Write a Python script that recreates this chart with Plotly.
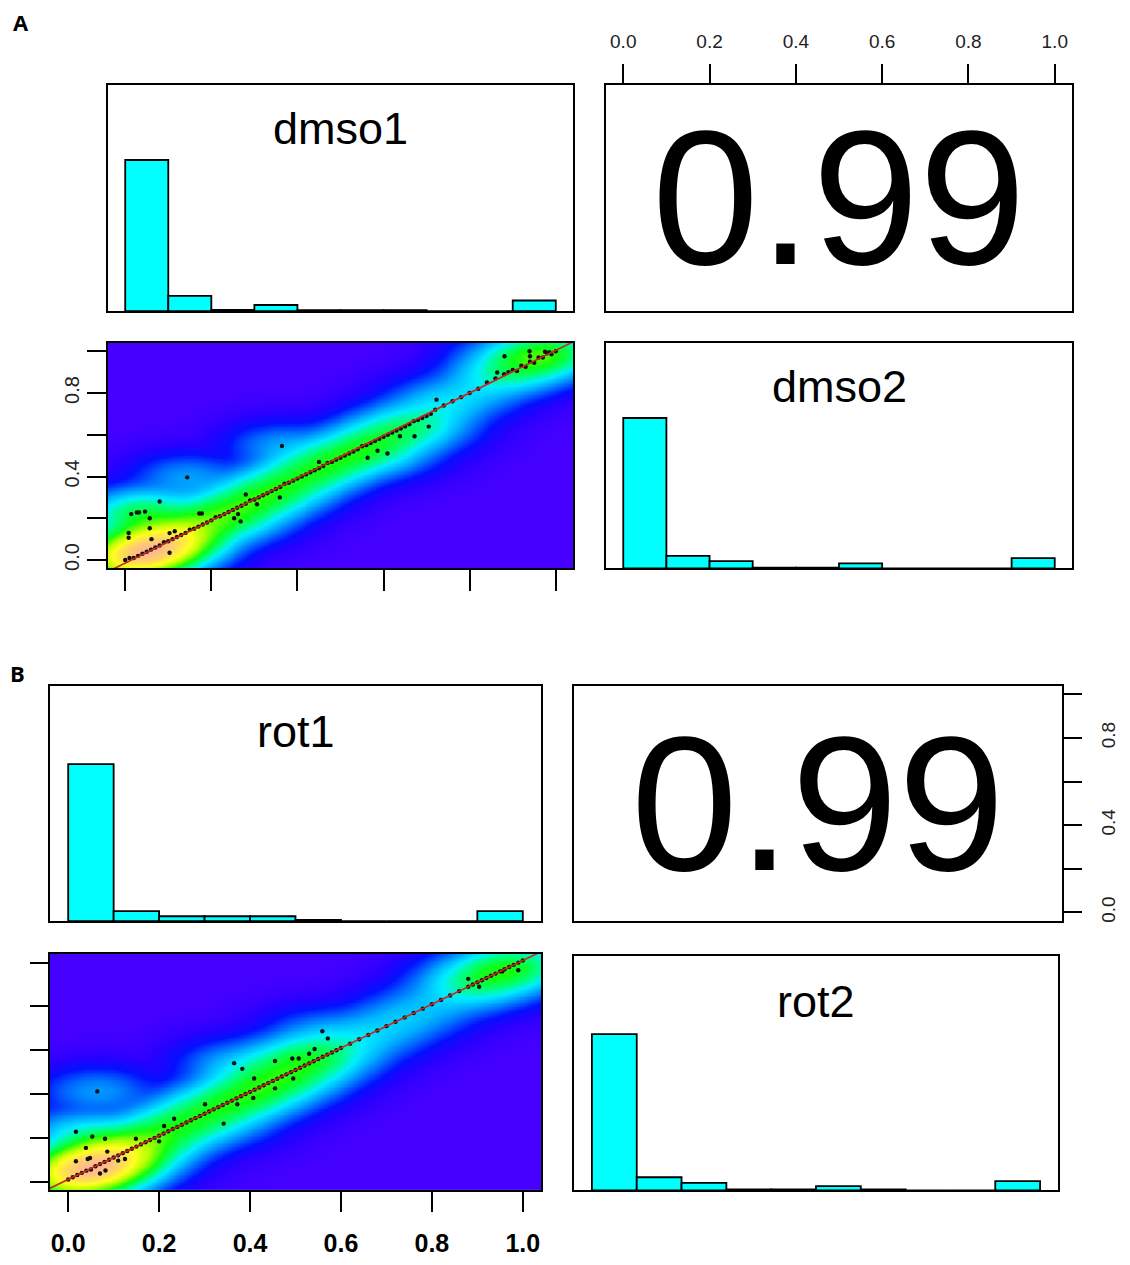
import numpy as np
import plotly.graph_objects as go

# the page adds an 8px body margin; the figure is sized/positioned to compensate
PAGE_W, PAGE_H, OFF = 1130, 1265, 8
W, H = PAGE_W - 2 * OFF, PAGE_H - 2 * OFF

# ---------------- data ----------------
bin_edges = [0.0, 0.1, 0.2, 0.3, 0.4, 0.5, 0.6, 0.7, 0.8, 0.9, 1.0]
dmso1_h = [1.0, 0.10, 0.008, 0.04, 0.006, 0.006, 0.006, 0, 0, 0.07]
dmso2_h = [1.0, 0.083, 0.048, 0.005, 0.005, 0.033, 0, 0, 0, 0.068]
rot1_h = [1.0, 0.063, 0.031, 0.031, 0.031, 0.008, 0, 0, 0, 0.063]
rot2_h = [1.0, 0.084, 0.048, 0.006, 0.006, 0.027, 0.006, 0, 0, 0.059]

corr_a = "0.99"
corr_b = "0.99"
tick_vals = [0.0, 0.2, 0.4, 0.6, 0.8, 1.0]
tick_text = ["0.0", "0.2", "0.4", "0.6", "0.8", "1.0"]
tick_text_sparse = ["0.0", "", "0.4", "", "0.8", ""]

# panel A: dmso1 (x) vs dmso2 (y)
a_diag_x = [0.00, 0.02, 0.04, 0.06, 0.08, 0.10, 0.12, 0.14, 0.16, 0.18, 0.20, 0.22, 0.24, 0.26,
            0.28, 0.30, 0.32, 0.34, 0.36, 0.38, 0.40, 0.42, 0.44, 0.46, 0.48, 0.50, 0.52, 0.54,
            0.56, 0.58, 0.60, 0.62, 0.64, 0.66, 0.68, 0.70, 0.72, 0.74, 0.76, 0.78, 0.80, 0.82,
            0.84, 0.86, 0.88, 0.90, 0.92, 0.94, 0.96, 0.98, 1.00]
a_diag_y = [0.00, 0.01, 0.03, 0.05, 0.07, 0.09, 0.11, 0.13, 0.15, 0.17, 0.19, 0.21, 0.23, 0.25,
            0.27, 0.29, 0.31, 0.33, 0.35, 0.37, 0.39, 0.41, 0.43, 0.45, 0.47, 0.49, 0.51, 0.53,
            0.55, 0.57, 0.59, 0.61, 0.63, 0.65, 0.67, 0.69, 0.72, 0.74, 0.76, 0.78, 0.80, 0.82,
            0.85, 0.87, 0.89, 0.91, 0.93, 0.95, 0.97, 0.99, 1.00]
a_diag_n = [60, 100, 100, 95, 85, 65, 45, 30, 20, 15, 13, 13, 13, 13,
            13, 13, 13, 13, 13, 13, 13, 13, 13, 13, 13, 13, 12, 12,
            12, 11, 10, 9, 9, 8, 6, 5, 3, 2.5, 2.5, 2.5, 2.5, 2.5,
            3, 4, 6, 10, 12, 14, 16, 16, 10]
a_extra_x = [0.01, 0.03, 0.05, 0.07, 0.09, 0.11, 0.13, 0.15, 0.17, 0.19, 0.21, 0.23, 0.25, 0.27,
             0.29, 0.31, 0.33, 0.35, 0.37, 0.39, 0.41, 0.43, 0.45, 0.47, 0.49, 0.51, 0.53, 0.55,
             0.57, 0.59, 0.61, 0.63, 0.65, 0.67, 0.69, 0.71, 0.89, 0.91, 0.93, 0.95, 0.97, 0.99]
a_extra_y = [0.01, 0.02, 0.04, 0.06, 0.085, 0.10, 0.12, 0.145, 0.16, 0.18, 0.205, 0.22, 0.24, 0.26,
             0.285, 0.30, 0.32, 0.34, 0.365, 0.38, 0.40, 0.42, 0.44, 0.465, 0.48, 0.50, 0.52, 0.545,
             0.56, 0.58, 0.60, 0.62, 0.64, 0.665, 0.68, 0.70, 0.90, 0.905, 0.925, 0.945, 0.97, 0.985]
a_out_x = [0.008, 0.008, 0.014, 0.027, 0.032, 0.046, 0.057, 0.057, 0.080, 0.061, 0.103, 0.115,
           0.103, 0.144, 0.172, 0.178, 0.253, 0.262, 0.268, 0.280, 0.306, 0.359, 0.364, 0.450,
           0.563, 0.586, 0.609, 0.638, 0.672, 0.705, 0.723, 0.864, 0.881, 0.939, 0.940, 0.975, 0.985]
a_out_y = [0.130, 0.107, 0.220, 0.228, 0.228, 0.232, 0.200, 0.152, 0.280, 0.100, 0.129, 0.138,
           0.035, 0.396, 0.223, 0.223, 0.200, 0.220, 0.185, 0.314, 0.267, 0.300, 0.546, 0.470,
           0.490, 0.523, 0.510, 0.593, 0.593, 0.639, 0.768, 0.898, 0.976, 1.000, 0.976, 0.997, 0.995]
a_out_n = [8, 8, 9, 9, 9, 9, 9, 8, 4, 8, 6, 6,
           8, 5, 5, 5, 4, 4, 4, 4, 4, 4, 5, 4,
           4, 4, 4, 3, 3, 3, 3, 3, 4, 5, 5, 8, 8]

# panel B: rot1 (x) vs rot2 (y)
b_diag_x = list(a_diag_x)
b_diag_y = [0.01, 0.03, 0.05, 0.07, 0.09, 0.11, 0.13, 0.15, 0.17, 0.19, 0.21, 0.23, 0.25, 0.27,
            0.29, 0.31, 0.33, 0.35, 0.37, 0.39, 0.41, 0.43, 0.45, 0.47, 0.49, 0.51, 0.53, 0.55,
            0.57, 0.59, 0.61, 0.63, 0.65, 0.67, 0.69, 0.71, 0.73, 0.75, 0.77, 0.79, 0.81, 0.83,
            0.85, 0.87, 0.89, 0.91, 0.93, 0.95, 0.97, 0.99, 1.01]
b_diag_n = [60, 100, 100, 95, 85, 60, 40, 26, 18, 14, 12, 12, 12, 12,
            12, 12, 12, 12, 13, 13, 13, 13, 13, 13, 12, 12, 11, 10,
            8, 5, 3.5, 3, 3, 2.5, 2.5, 2.5, 2.5, 2.5, 2, 2, 2, 2,
            2, 2.5, 5, 9, 12, 14, 16, 16, 10]
b_extra_x = [0.01, 0.03, 0.05, 0.07, 0.09, 0.11, 0.13, 0.15, 0.17, 0.19, 0.21, 0.23, 0.25, 0.27,
             0.29, 0.31, 0.33, 0.35, 0.37, 0.39, 0.41, 0.43, 0.45, 0.47, 0.49, 0.51, 0.53, 0.55,
             0.57, 0.59, 0.89, 0.91, 0.93, 0.95, 0.97, 0.99]
b_extra_y = [0.02, 0.04, 0.055, 0.08, 0.10, 0.12, 0.14, 0.16, 0.18, 0.20, 0.22, 0.24, 0.26, 0.28,
             0.30, 0.32, 0.34, 0.36, 0.38, 0.40, 0.42, 0.44, 0.46, 0.48, 0.50, 0.52, 0.54, 0.56,
             0.58, 0.60, 0.90, 0.92, 0.94, 0.96, 0.98, 1.00]
b_out_x = [0.017, 0.039, 0.053, 0.064, 0.081, 0.017, 0.043, 0.048, 0.070, 0.082, 0.086, 0.110,
           0.125, 0.149, 0.200, 0.211, 0.233, 0.301, 0.342, 0.365, 0.383, 0.372, 0.409, 0.407,
           0.455, 0.455, 0.493, 0.507, 0.495, 0.530, 0.542, 0.559, 0.571, 0.880, 0.904, 0.955, 0.990]
b_out_y = [0.228, 0.154, 0.206, 0.412, 0.196, 0.093, 0.103, 0.108, 0.037, 0.051, 0.137, 0.096,
           0.103, 0.196, 0.184, 0.254, 0.287, 0.353, 0.265, 0.541, 0.515, 0.353, 0.471, 0.382,
           0.551, 0.426, 0.562, 0.562, 0.471, 0.584, 0.606, 0.687, 0.654, 0.926, 0.890, 0.960, 0.965]
b_out_n = [8, 8, 8, 5, 8, 8, 10, 10, 8, 8, 7, 6,
           6, 5, 4, 4, 4, 4, 3, 4, 4, 4, 5, 5,
           6, 5, 6, 6, 5, 6, 5, 3, 3, 4, 4, 6, 6]

# ---------------- helpers ----------------
RNG = [-0.04, 1.04]
FONT = "Liberation Sans"


def dom_x(a, b):
    return [(a - OFF) / W, (b - OFF) / W]


def dom_y(top, bottom):
    return [1 - (bottom - OFF) / H, 1 - (top - OFF) / H]


def box_axis(domain, rng, **kw):
    d = dict(domain=domain, range=rng, showline=True, linecolor="black", linewidth=1.6,
             mirror=True, showgrid=False, zeroline=False, ticks="", showticklabels=False,
             fixedrange=True)
    d.update(kw)
    return d


def tick_axis(domain, rng, text, **kw):
    d = box_axis(domain, rng, ticks="outside", ticklen=19, tickwidth=1.6, tickcolor="black",
                 tickvals=tick_vals, ticktext=text, showticklabels=True,
                 tickfont=dict(family=FONT, size=19, color="#222222"))
    d.update(kw)
    return d


centers = [(bin_edges[i] + bin_edges[i + 1]) / 2 for i in range(len(bin_edges) - 1)]
widths = [bin_edges[i + 1] - bin_edges[i] for i in range(len(bin_edges) - 1)]

fig = go.Figure()


def add_hist(h, ax, ay):
    fig.add_trace(go.Bar(x=centers, y=h, width=widths, xaxis=ax, yaxis=ay,
                         marker=dict(color="#00FFFF", line=dict(color="black", width=1.8)),
                         showlegend=False, hoverinfo="skip"))


COLORSCALE = [[0.0, "#4600FF"], [0.09, "#2A00FF"], [0.18, "#0410FF"], [0.27, "#0064FF"],
              [0.36, "#00B0FF"], [0.45, "#00EEFF"], [0.54, "#00FF80"], [0.63, "#10FF10"],
              [0.74, "#B4FF00"], [0.83, "#FFFF20"], [0.92, "#FFD860"], [1.0, "#FFB890"]]


def add_smooth_scatter(px, py, pn, ex, ey, dx, dy, ax, ay):
    x = np.array(px, float)
    y = np.array(py, float)
    n = np.array(pn, float)
    gx = np.linspace(RNG[0], RNG[1], 240)
    gy = np.linspace(RNG[0], RNG[1], 170)
    hx, hy = 0.056, 0.05
    dens = (n[:, None, None] * np.exp(-((gx[None, None, :] - x[:, None, None]) ** 2 / (2 * hx ** 2)
                                        + (gy[None, :, None] - y[:, None, None]) ** 2 / (2 * hy ** 2)))).sum(0)
    t = (dens / dens.max()) ** 0.25
    fig.add_trace(go.Heatmap(x=gx, y=gy, z=t, zmin=0, zmax=1, colorscale=COLORSCALE,
                             showscale=False, zsmooth="best", xaxis=ax, yaxis=ay, hoverinfo="skip"))
    fig.add_trace(go.Scatter(x=list(px) + list(ex), y=list(py) + list(ey), mode="markers",
                             xaxis=ax, yaxis=ay, marker=dict(color="#111111", size=4.4),
                             showlegend=False, hoverinfo="skip"))
    b, a = np.polyfit(np.array(dx, float), np.array(dy, float), 1)
    lx = np.array(RNG)
    fig.add_trace(go.Scatter(x=lx, y=a + b * lx, mode="lines", xaxis=ax, yaxis=ay,
                             line=dict(color="#C8281E", width=1.6), showlegend=False, hoverinfo="skip"))


# ---------------- panel A ----------------
add_hist(dmso1_h, "x", "y")
add_smooth_scatter(a_diag_x + a_out_x, a_diag_y + a_out_y, a_diag_n + a_out_n,
                   a_extra_x, a_extra_y, a_diag_x, a_diag_y, "x3", "y3")
add_hist(dmso2_h, "x4", "y4")
fig.add_trace(go.Scatter(x=[0.5], y=[0.5], mode="markers", marker=dict(opacity=0),
                         xaxis="x2", yaxis="y2", showlegend=False, hoverinfo="skip"))

# ---------------- panel B ----------------
add_hist(rot1_h, "x5", "y5")
fig.add_trace(go.Scatter(x=[0.5], y=[0.5], mode="markers", marker=dict(opacity=0),
                         xaxis="x6", yaxis="y6", showlegend=False, hoverinfo="skip"))
add_smooth_scatter(b_diag_x + b_out_x, b_diag_y + b_out_y, b_diag_n + b_out_n,
                   b_extra_x, b_extra_y, b_diag_x, b_diag_y, "x7", "y7")
add_hist(rot2_h, "x8", "y8")

HR = [0, 1.5]
layout = dict(
    width=W, height=H, margin=dict(l=0, r=0, t=0, b=0),
    paper_bgcolor="white", plot_bgcolor="white", showlegend=False,
    font=dict(family=FONT, color="black"),
    # A
    xaxis=box_axis(dom_x(108, 573), RNG, anchor="y"),
    yaxis=box_axis(dom_y(85, 313), HR, anchor="x"),
    xaxis2=tick_axis(dom_x(606, 1072), RNG, tick_text, anchor="y2", side="top",
                     ticklabelstandoff=8),
    yaxis2=box_axis(dom_y(85, 313), [0, 1], anchor="x2"),
    xaxis3=box_axis(dom_x(108, 573), RNG, anchor="y3", ticks="outside", ticklen=21,
                    tickwidth=1.6, tickcolor="black", tickvals=tick_vals),
    yaxis3=tick_axis(dom_y(345, 572), RNG, tick_text_sparse, anchor="x3", tickangle=-90,
                     ticklen=19, tickfont=dict(family=FONT, size=20, color="#222222")),
    xaxis4=box_axis(dom_x(606, 1072), RNG, anchor="y4"),
    yaxis4=box_axis(dom_y(345, 572), HR, anchor="x4"),
    # B
    xaxis5=box_axis(dom_x(50, 541), RNG, anchor="y5"),
    yaxis5=box_axis(dom_y(690, 927), HR, anchor="x5"),
    xaxis6=box_axis(dom_x(574, 1062), RNG, anchor="y6"),
    yaxis6=tick_axis(dom_y(690, 927), RNG, tick_text_sparse, anchor="x6", side="right",
                     tickangle=-90, ticklen=18, ticklabelstandoff=10),
    xaxis7=tick_axis(dom_x(50, 541), RNG, tick_text, anchor="y7", ticklen=20,
                     tickfont=dict(family=FONT, size=25, color="black", weight="bold"),
                     ticklabelstandoff=10),
    yaxis7=box_axis(dom_y(960, 1198), RNG, anchor="x7", ticks="outside", ticklen=18,
                    tickwidth=1.6, tickcolor="black", tickvals=tick_vals),
    xaxis8=box_axis(dom_x(574, 1058), RNG, anchor="y8"),
    yaxis8=box_axis(dom_y(962, 1198), HR, anchor="x8"),
)
fig.update_layout(**layout)

ann = []
name_font = dict(family=FONT, size=45, color="black")
for label, ax, ay in [("dmso1", "x", "y"), ("dmso2", "x4", "y4"), ("rot1", "x5", "y5"), ("rot2", "x8", "y8")]:
    ann.append(dict(text=label, x=0.5, y=1.21, xref=ax, yref=ay, showarrow=False,
                    xanchor="center", yanchor="middle", font=name_font))
corr_font = dict(family=FONT, size=192, color="black")
ann.append(dict(text=corr_a, x=0.5, y=0.5, xref="x2 domain", yref="y2 domain", showarrow=False,
                xanchor="center", yanchor="middle", font=corr_font))
ann.append(dict(text=corr_b, x=0.5, y=0.5, xref="x6 domain", yref="y6 domain", showarrow=False,
                xanchor="center", yanchor="middle", font=corr_font))
ann.append(dict(text="<b>A</b>", x=(21 - OFF) / W, y=1 - (22 - OFF) / H, xref="paper", yref="paper",
                showarrow=False, xanchor="center", yanchor="middle",
                font=dict(family="Open Sans", size=22, color="black")))
ann.append(dict(text="<b>B</b>", x=(17 - OFF) / W, y=1 - (677 - OFF) / H, xref="paper", yref="paper",
                showarrow=False, xanchor="center", yanchor="middle",
                font=dict(family="Open Sans", size=22, color="black")))
fig.update_layout(annotations=ann)

fig.write_html("out.html")
